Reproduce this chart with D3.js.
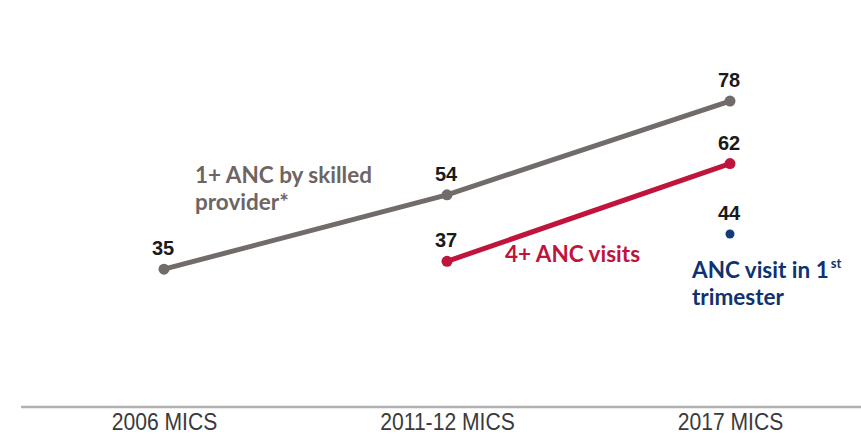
<!DOCTYPE html>
<html>
<head>
<meta charset="utf-8">
<script src="https://cdn.jsdelivr.net/npm/d3@7"></script>
<style>
  html, body { margin: 0; padding: 0; background: #fff; }
  svg { display: block; }
</style>
</head>
<body>
<svg id="chart" width="861" height="436"></svg>
<script>
// Survey rounds on the x axis
const rounds = ["2006 MICS", "2011-12 MICS", "2017 MICS"];

// Antenatal care indicators (%)
const skilledProvider = [35, 54, 78];     // 1+ ANC by skilled provider*
const fourPlusVisits = [null, 37, 62];    // 4+ ANC visits
const firstTrimester = [null, null, 44];  // ANC visit in 1st trimester

const svg = d3.select("#chart");

const x = d3.scalePoint().domain(rounds).range([164, 730]);
const y = d3.scaleLinear().domain([0, 100]).range([406, 15]);

// Baseline along the bottom
svg.append("line")
  .attr("x1", 21).attr("x2", 861)
  .attr("y1", 407).attr("y2", 407)
  .attr("stroke", "#b0b0b0")
  .attr("stroke-width", 2.5);

// Category labels (narrowed horizontally)
const axis = svg.append("g")
  .attr("transform", "translate(0,407)")
  .call(d3.axisBottom(x).tickSize(0).tickPadding(0));
axis.select(".domain").remove();
axis.selectAll(".tick text")
  .attr("x", 0)
  .attr("y", 23.5)
  .attr("dy", 0)
  .attr("transform", "scale(0.88,1)")
  .attr("font-family", "'Liberation Sans', Arial, sans-serif")
  .attr("font-size", 24)
  .attr("fill", "#3a3a3a");

const series = [
  { name: "skilled", values: skilledProvider, color: "#716b69", r: 5.5, line: true },
  { name: "four", values: fourPlusVisits, color: "#c0143c", r: 5.5, line: true },
  { name: "first", values: firstTrimester, color: "#123c78", r: 4.5, line: false }
];

const line = d3.line()
  .defined(d => d.v != null)
  .x(d => x(d.c))
  .y(d => y(d.v));

series.forEach(s => {
  const pts = rounds.map((c, i) => ({ c, v: s.values[i] }));
  const g = svg.append("g").attr("class", "series-" + s.name);
  if (s.line) {
    g.append("path")
      .datum(pts)
      .attr("d", line)
      .attr("fill", "none")
      .attr("stroke", s.color)
      .attr("stroke-width", 5)
      .attr("stroke-linecap", "round");
  }
  const valid = pts.filter(d => d.v != null);
  g.selectAll("circle")
    .data(valid)
    .join("circle")
    .attr("cx", d => x(d.c))
    .attr("cy", d => y(d.v))
    .attr("r", s.r)
    .attr("fill", s.color);
  g.selectAll("text.value")
    .data(valid)
    .join("text")
    .attr("class", "value")
    .attr("x", d => x(d.c) - 1)
    .attr("y", d => y(d.v) - 14)
    .attr("text-anchor", "middle")
    .attr("font-family", "'Liberation Sans', Arial, sans-serif")
    .attr("font-weight", "bold")
    .attr("font-size", 20)
    .attr("fill", "#1a1a1a")
    .text(d => d.v);
});

// Series names
const nameFont = "Lato, 'Open Sans', sans-serif";
const nameSize = 22.5;

function nameText(xPos, yPos, color) {
  return svg.append("text")
    .attr("x", xPos).attr("y", yPos)
    .attr("font-family", nameFont)
    .attr("font-weight", "bold")
    .attr("font-size", nameSize)
    .attr("fill", color);
}

nameText(195, 183, "#6d6563").text("1+ ANC by skilled");
nameText(195, 210, "#6d6563").text("provider*");

nameText(505, 262, "#c0143c").text("4+ ANC visits");

const l1 = nameText(692, 278, "#0e3370");
l1.append("tspan").text("ANC visit in 1");
l1.append("tspan").attr("dy", -10).attr("dx", 2).attr("font-size", 13).text("st");
nameText(692, 305, "#0e3370").text("trimester");
</script>
</body>
</html>
